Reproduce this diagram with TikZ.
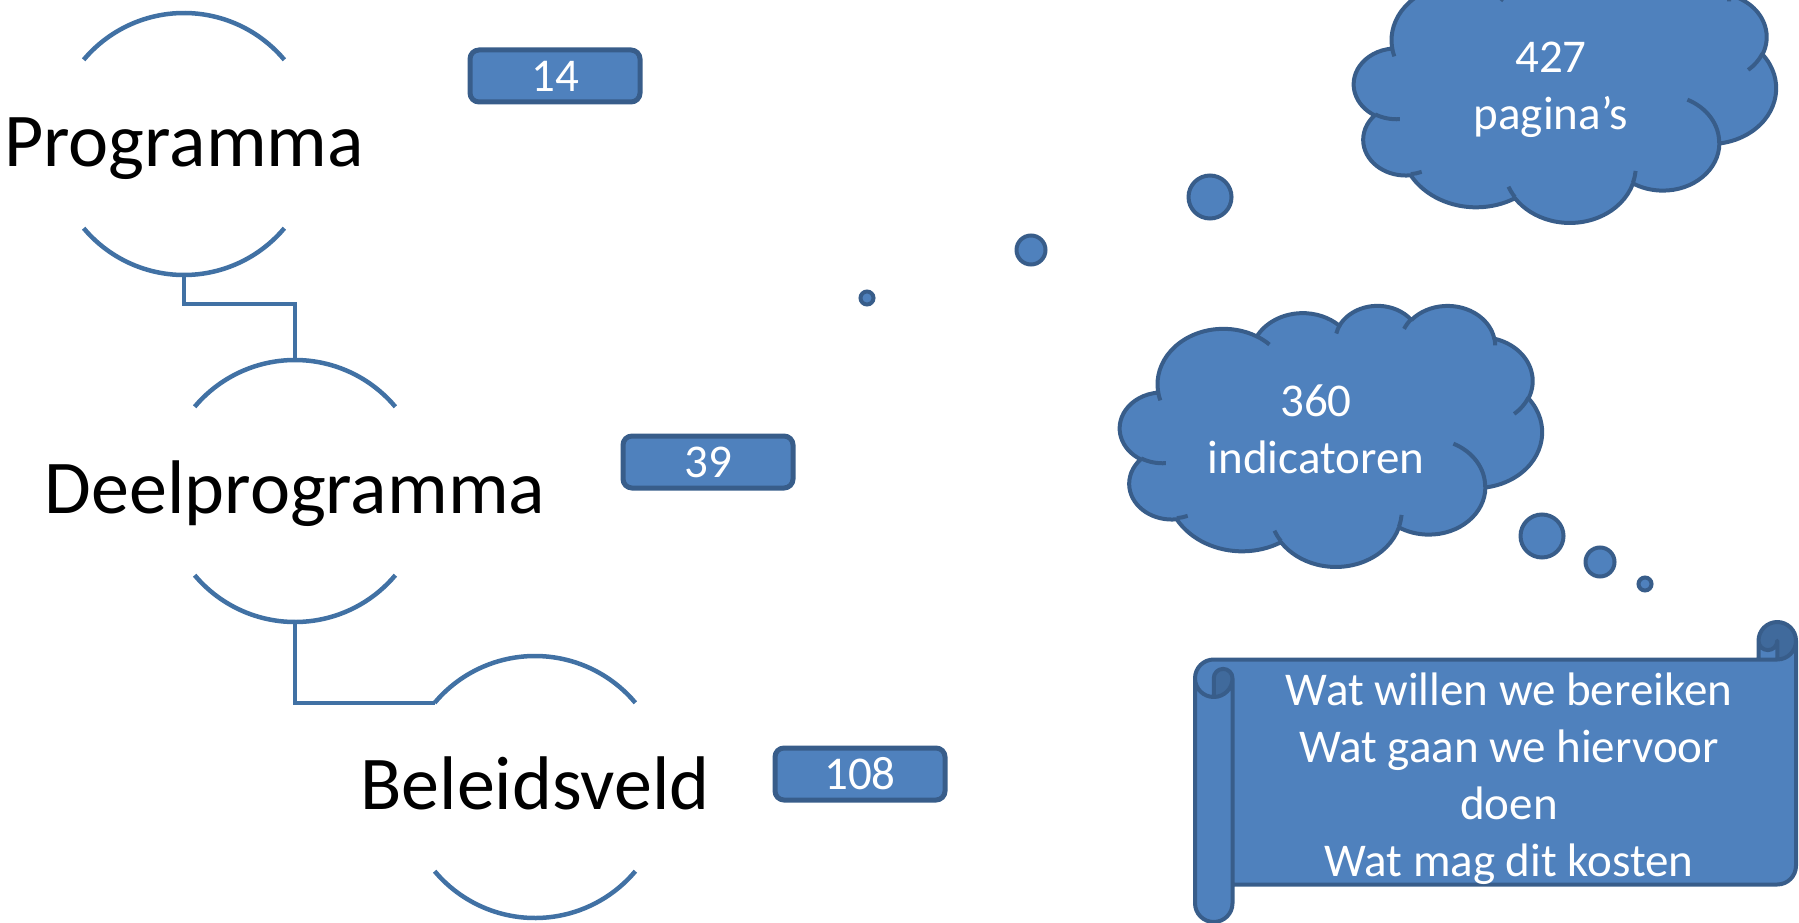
\documentclass[tikz,border=0pt]{standalone}
\usepackage{fontspec}
\setmainfont{Carlito}
\usetikzlibrary{positioning}

\definecolor{shapeblue}{RGB}{79,129,189}
\definecolor{shapeedge}{RGB}{56,93,138}
\definecolor{shadeblue}{RGB}{64,106,156}
\definecolor{hierblue}{RGB}{65,113,164}

% one arcTo of an office shape: wR, hR, start, sweep (path space 43200 -> 100)
\newcommand\pptarc[4]{%
  \pgfextra{%
    \pgfmathparse{atan2((#1)*sin(#3),(#2)*cos(#3))}\xdef\arcS{\pgfmathresult}%
    \pgfmathparse{atan2((#1)*sin((#3)+(#4)),(#2)*cos((#3)+(#4)))}\xdef\arcT{\pgfmathresult}%
    \pgfmathparse{\arcS+mod(\arcT-\arcS+720,360)}\xdef\arcE{\pgfmathresult}%
  }%
  arc[start angle=\arcS, end angle=\arcE, x radius={(#1)/432}, y radius={(#2)/432}]%
}

% cloud outline and its inner curls
\newcommand\cloudshape{%
  \filldraw[cloudfill] (9.028,33.264)
    \pptarc{6753}{9190}{-190.4875}{123.7805}
    \pptarc{5333}{7267}{-144.1024}{89.9452}
    \pptarc{4365}{5945}{-145.8079}{99.7230}
    \pptarc{4857}{6595}{-130.9861}{117.2417}
    \pptarc{5333}{7273}{-78.7089}{109.0269}
    \pptarc{6775}{9220}{-46.2673}{130.2690}
    \pptarc{5785}{7867}{0.6250}{114.0333}
    \pptarc{6752}{9215}{22.4516}{115.1726}
    \pptarc{7720}{10543}{66.2426}{75.7110}
    \pptarc{4360}{5918}{-274.9421}{146.7356}
    \pptarc{4345}{5945}{-246.8285}{152.5189} -- cycle;
  \draw[cloudline]
    (10.863,60.595) \pptarc{4345}{5945}{86.7420}{26.4295}
    (16.037,80.785) \pptarc{4360}{5918}{73.6105}{11.4475}
    (38.144,90.486) \pptarc{6752}{9215}{137.6242}{14.0811}
    (66.729,80.442) \pptarc{6752}{9215}{6.4533}{15.9984}
    (79.002,53.134) \pptarc{5785}{7867}{-70.2924}{70.9174}
    (96.755,35.542) \pptarc{5333}{7273}{30.3180}{27.7515}
    (88.713,12.560) \pptarc{4857}{6595}{-13.7443}{14.8589}
    (67.310,9.148)  \pptarc{4857}{6595}{-149.1815}{18.1954}
    (51.252,10.926) \pptarc{4365}{5945}{-163.4943}{17.6864}
    (32.407,12.019) \pptarc{6753}{9190}{-66.7070}{12.3194}
    (9.553,36.549)  \pptarc{6753}{9190}{157.6544}{11.8582};
}

\begin{document}
\begin{tikzpicture}[
    x=1pt, y=1pt,
    hier/.style={draw=hierblue, line width=4.5pt},
    level/.style={circle, minimum size=262pt, inner sep=0pt, outer sep=0pt},
    leveltext/.style={anchor=base, inner sep=0pt, font=\fontsize{76pt}{90pt}\selectfont},
    numbox/.style={rectangle, rounded corners=9pt, draw=shapeedge, line width=5pt,
        fill=shapeblue, text=white, minimum width=170pt, minimum height=52pt,
        inner sep=0pt, font=\fontsize{47pt}{57pt}\selectfont},
    bubble/.style={circle, draw=shapeedge, line width=4pt, fill=shapeblue, inner sep=0pt},
    cloudfill/.style={fill=shapeblue, draw=shapeedge, line width=4pt, line join=round},
    cloudline/.style={draw=shapeedge, line width=4pt},
    bigtext/.style={text=white, align=center, anchor=base, inner sep=0pt,
        font=\fontsize{47pt}{57pt}\selectfont}
]
   \useasboundingbox (0,0) rectangle (1799,-923);
   \clip (0,0) rectangle (1799,-923);

   % Levels
   \node[level] (prog) at (184,-144) {};
   \node[level] (deel) at (295,-491) {};
   \node[level] (beleid) at (535,-787) {};
   \foreach \lv in {prog,deel,beleid}{
      \draw[hier] (\lv.140) arc[start angle=140, end angle=40, radius=131];
      \draw[hier] (\lv.220) arc[start angle=220, end angle=320, radius=131];
   }
   \node[leveltext] (progtxt) at ([yshift=-22pt]prog.center) {Programma};
   \node[leveltext] (deeltxt) at ([yshift=-22pt]deel.center) {Deelprogramma};
   \node[leveltext] (beleidtxt) at ([yshift=-22pt]beleid.center) {Beleidsveld};

   \draw[hier] (prog.south) -- ++(0,-29) -| (deel.north);
   \draw[hier] (deel.south) |- (beleid.140);

   % Counters
   \node[numbox] (n14) at (555,-76) {14};
   \node[numbox] (n39) at (708,-462) {39};
   \node[numbox] (n108) at (860,-774) {108};

   % Thought clouds (text anchored on its last line)
   \begin{scope}[shift={(1354,39)}, x=4.22pt, y=-2.61pt]
      \cloudshape
   \end{scope}
   \node[bigtext] (pages) at (1551,-130) {427\\pagina’s};

   \begin{scope}[shift={(1120,-305)}, x=4.22pt, y=-2.61pt]
      \cloudshape
   \end{scope}
   \node[bigtext] (indic) at (1316,-473) {360\\indicatoren};

   \node[bubble, minimum size=13pt] (t1) at (867,-298) {};
   \node[bubble, minimum size=29pt] (t2) at (1031,-250) {};
   \node[bubble, minimum size=43pt] (t3) at (1210,-197) {};
   \node[bubble, minimum size=43pt] (u1) at (1542,-536) {};
   \node[bubble, minimum size=29pt] (u2) at (1600,-562) {};
   \node[bubble, minimum size=13pt] (u3) at (1645,-584) {};

   % Scroll
   \begin{scope}[shift={(1195,-622)}, y=-1pt]
      \fill[shapeblue] (0,56.25) arc[start angle=180, delta angle=90, radius=18.75]
         -- (563.5,37.5) -- (563.5,18.75) arc[start angle=180, delta angle=180, radius=18.75]
         -- (601,243.75) arc[start angle=0, delta angle=90, radius=18.75]
         -- (37.5,262.5) -- (37.5,281.25) arc[start angle=0, delta angle=180, radius=18.75]
         -- cycle;
      \fill[shadeblue] (18.75,75) arc[start angle=90, delta angle=-90, radius=18.75]
         arc[start angle=0, delta angle=-180, radius=9.375] -- cycle;
      \fill[shadeblue] (582.25,37.5) arc[start angle=90, delta angle=-270, radius=18.75]
         arc[start angle=180, delta angle=-180, radius=9.375] -- cycle;
      \draw[shapeedge, line width=4pt, line join=round]
         (0,56.25) arc[start angle=180, delta angle=90, radius=18.75]
         -- (563.5,37.5) -- (563.5,18.75) arc[start angle=180, delta angle=180, radius=18.75]
         -- (601,243.75) arc[start angle=0, delta angle=90, radius=18.75]
         -- (37.5,262.5) -- (37.5,281.25) arc[start angle=0, delta angle=180, radius=18.75]
         -- cycle
         (563.5,37.5) -- (582.25,37.5) arc[start angle=90, delta angle=-90, radius=18.75]
         (582.25,37.5) -- (582.25,18.75) arc[start angle=0, delta angle=180, radius=9.375]
         (18.75,75) -- (18.75,56.25) arc[start angle=180, delta angle=180, radius=9.375]
            arc[start angle=0, delta angle=180, radius=18.75]
         (37.5,56.25) -- (37.5,262.5);
   \end{scope}
   \node[bigtext] (goals) at (1509,-876) {Wat willen we bereiken\\Wat gaan we hiervoor\\doen\\Wat mag dit kosten};

\end{tikzpicture}
\end{document}
